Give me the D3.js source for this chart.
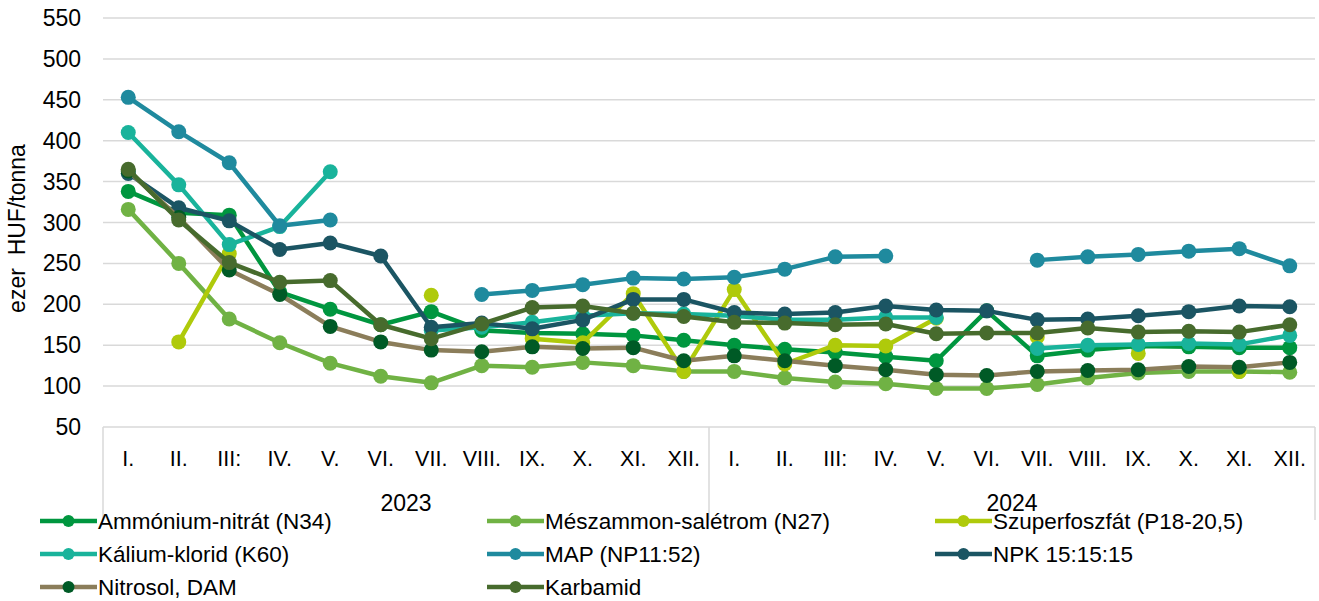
<!DOCTYPE html>
<html><head><meta charset="utf-8">
<script src="https://cdn.jsdelivr.net/npm/d3@7/dist/d3.min.js"></script>
<style>
body{margin:0;background:#fff;}
text{font-family:"Liberation Sans",Arial,sans-serif;fill:#000;}
</style></head>
<body><svg id="c" width="1319" height="601"></svg>
<script>
const months = ["I.","II.","III:","IV.","V.","VI.","VII.","VIII.","IX.","X.","XI.","XII.","I.","II.","III:","IV.","V.","VI.","VII.","VIII.","IX.","X.","XI.","XII."];
const years = ["2023","2024"];
const yTicks = [50,100,150,200,250,300,350,400,450,500,550];

const ammonium   = [338,312,309,215,194,175,191,168,165,164,162,156,150,145,141,136,131,192,137,144,149,148,147,147];
const meszammon  = [316,250,182,153,128,112,104,125,123,129,125,118,118,110,105,103,97,97,102,110,116,118,118,117];
const szuper     = [null,154,262,null,null,null,211,null,158,153,213,118,218,127,150,149,183,null,160,null,140,null,118,null];
const kalium     = [410,346,273,295,362,null,168,172,178,186,189,188,186,181,181,184,184,null,146,150,151,152,151,162];
const map        = [453,411,373,296,303,null,null,212,217,224,232,231,233,243,258,259,null,null,254,258,261,265,268,247];
const npk        = [360,318,302,267,275,259,172,177,170,181,206,206,190,188,190,198,193,192,181,182,186,191,198,197];
const nitrosol   = [363,306,242,212,173,154,144,142,148,146,147,131,137,131,125,120,114,113,118,119,120,124,123,129];
const karbamid   = [365,303,251,227,229,175,158,176,196,198,189,185,178,177,175,176,164,165,165,171,166,167,166,175];

const series = [
  {name:"Ammónium-nitrát (N34)", values:ammonium, line:"#00963F", marker:"#00963F"},
  {name:"Mészammon-salétrom (N27)", values:meszammon, line:"#70B244", marker:"#70B244"},
  {name:"Szuperfoszfát (P18-20,5)", values:szuper, line:"#AFCA0B", marker:"#AFCA0B"},
  {name:"Kálium-klorid (K60)", values:kalium, line:"#19B39B", marker:"#19B39B"},
  {name:"MAP (NP11:52)", values:map, line:"#1F8A9E", marker:"#1F8A9E"},
  {name:"NPK 15:15:15", values:npk, line:"#1B5563", marker:"#1B5563"},
  {name:"Nitrosol, DAM", values:nitrosol, line:"#8B7D5A", marker:"#005A26"},
  {name:"Karbamid", values:karbamid, line:"#476B2D", marker:"#476B2D"}
];

const svg = d3.select("#c");
const L = 103, R = 1315, T = 18, B = 427;
const x = d3.scaleBand().domain(d3.range(months.length)).range([L,R]).padding(0);
const cx = i => x(i) + x.bandwidth()/2;
const y = d3.scaleLinear().domain([50,550]).range([B,T]);

// gridlines
svg.append("g").selectAll("line").data(yTicks).join("line")
  .attr("x1",L).attr("x2",R).attr("y1",d=>y(d)).attr("y2",d=>y(d))
  .attr("stroke","#D9D9D9").attr("stroke-width",1.5);

// y tick labels
svg.append("g").selectAll("text").data(yTicks).join("text")
  .attr("x",81).attr("y",d=>y(d)).attr("dy","0.35em").attr("text-anchor","end")
  .attr("font-size",23).text(d=>d);

// y title
svg.append("text").attr("transform","translate(25,"+((T+B)/2+6)+") rotate(-90)")
  .attr("text-anchor","middle").attr("font-size",23).style("white-space","pre")
  .text("ezer  HUF/tonna");

// x axis divider lines
const divs = [0,12,24].map(i => i===24 ? R : x(i));
svg.append("g").selectAll("line").data(divs).join("line")
  .attr("x1",d=>d).attr("x2",d=>d).attr("y1",B).attr("y2",520)
  .attr("stroke","#D9D9D9").attr("stroke-width",1.5);

// month labels
svg.append("g").selectAll("text").data(months).join("text")
  .attr("x",(d,i)=>cx(i)).attr("y",458).attr("dy","0.35em").attr("text-anchor","middle")
  .attr("font-size",21.5).text(d=>d);

// year labels
svg.append("g").selectAll("text").data(years).join("text")
  .attr("x",(d,i)=>(x(i*12) + (i===1?R:x(12)))/2).attr("y",503).attr("dy","0.35em")
  .attr("text-anchor","middle").attr("font-size",23).text(d=>d);

// lines and markers
const line = d3.line().defined(d=>d.v!=null).x(d=>cx(d.i)).y(d=>y(d.v));
series.forEach(s=>{
  const pts = s.values.map((v,i)=>({i,v}));
  const g = svg.append("g");
  g.append("path").datum(pts).attr("d",line).attr("fill","none")
    .attr("stroke",s.line).attr("stroke-width",4.5).attr("stroke-linejoin","round");
  g.selectAll("circle").data(pts.filter(p=>p.v!=null)).join("circle")
    .attr("cx",p=>cx(p.i)).attr("cy",p=>y(p.v)).attr("r",7.5).attr("fill",s.marker);
});

// legend
const colX = [40,487,935];
const rowY = [521,554,587];
series.forEach((s,k)=>{
  const c = k%3, r = Math.floor(k/3);
  const g = svg.append("g").attr("transform","translate("+colX[c]+","+rowY[r]+")");
  g.append("line").attr("x1",0).attr("x2",57).attr("y1",0).attr("y2",0)
    .attr("stroke",s.line).attr("stroke-width",4.5);
  g.append("circle").attr("cx",28.5).attr("cy",0).attr("r",6).attr("fill",s.marker);
  g.append("text").attr("x",58).attr("y",0).attr("dy","0.35em").attr("font-size",22.5).text(s.name);
});
</script></body></html>
